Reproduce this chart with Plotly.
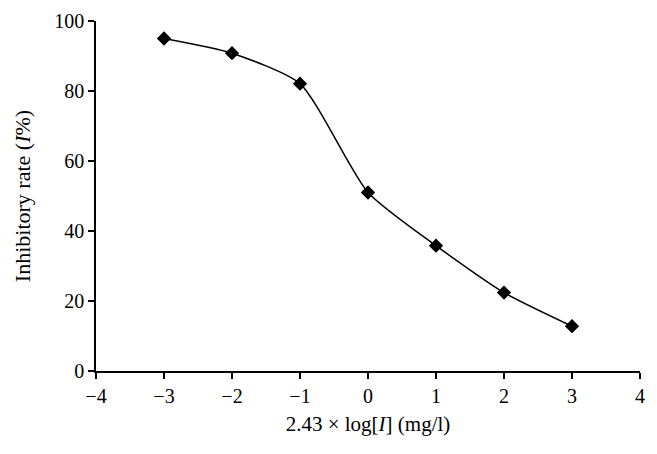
import plotly.graph_objects as go

x_vals = [-3, -2, -1, 0, 1, 2, 3]
y_vals = [95.0, 90.8, 82.1, 51.0, 35.8, 22.4, 12.8]

x_ticks = [-4, -3, -2, -1, 0, 1, 2, 3, 4]
y_ticks = [0, 20, 40, 60, 80, 100]

font_family = "Liberation Serif, DejaVu Serif, serif"

fig = go.Figure()
fig.add_trace(go.Scatter(
    x=x_vals, y=y_vals,
    mode="lines+markers",
    line=dict(color="black", width=1.5, shape="spline", smoothing=0.6),
    marker=dict(symbol="diamond", size=11, color="black"),
    showlegend=False,
))

fig.update_layout(
    width=657, height=454,
    margin=dict(l=88, r=25, t=13, b=91),
    plot_bgcolor="white", paper_bgcolor="white",
    font=dict(family=font_family, size=20, color="black"),
    xaxis=dict(
        range=[-4, 4], tickvals=x_ticks,
        ticktext=[str(v).replace("-", "\u2212") for v in x_ticks],
        showgrid=False, zeroline=False, automargin=False,
        showline=True, linecolor="black", linewidth=1.5,
        ticks="outside", ticklen=6, tickwidth=1.5, tickcolor="black",
        title=dict(text="2.43 × log[<i>I</i>] (mg/l)", standoff=11, font=dict(size=21)),
    ),
    yaxis=dict(
        range=[0, 100], tickvals=y_ticks,
        showgrid=False, zeroline=False, automargin=False,
        showline=True, linecolor="black", linewidth=1.5,
        ticks="outside", ticklen=6, tickwidth=1.5, tickcolor="black",
        title=dict(text="Inhibitory rate (<i>I</i>%)", standoff=18, font=dict(size=22)),
    ),
)

fig.write_html("out.html")
